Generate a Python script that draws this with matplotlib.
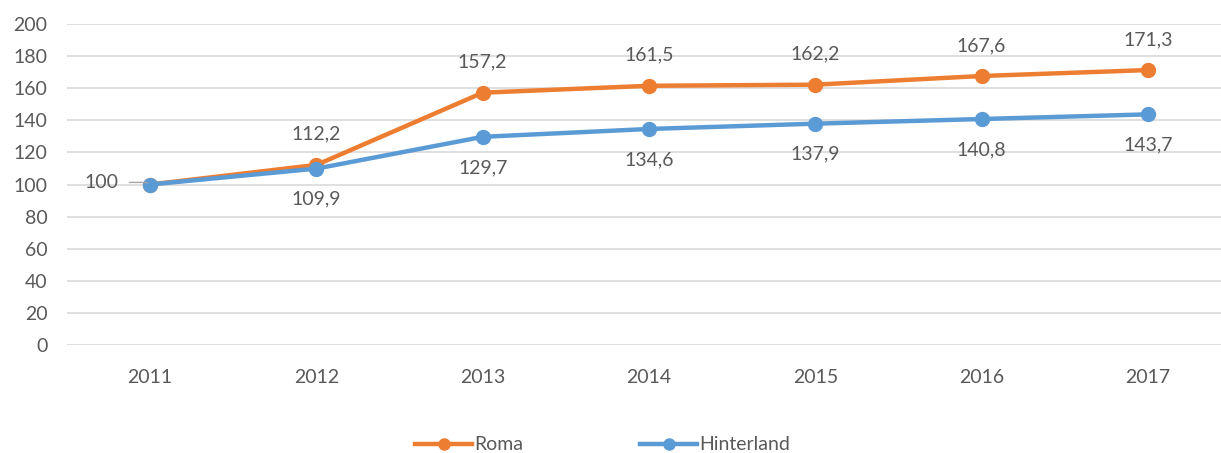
import matplotlib
matplotlib.use("Agg")
import matplotlib.pyplot as plt

years = ["2011", "2012", "2013", "2014", "2015", "2016", "2017"]
roma = [100, 112.2, 157.2, 161.5, 162.2, 167.6, 171.3]
hinterland = [100, 109.9, 129.7, 134.6, 137.9, 140.8, 143.7]
yticks = [0, 20, 40, 60, 80, 100, 120, 140, 160, 180, 200]

plt.rcParams['font.family'] = ['Lato', 'DejaVu Sans']
TXT = '#595959'
ORANGE = '#ED7D31'
BLUE = '#5B9BD5'
FS = 14

fig = plt.figure(figsize=(12.21, 4.53), dpi=100)
ax = fig.add_axes([67/1221, 108/453, (1221-67)/1221, 321/453])
x = list(range(len(years)))

ax.plot(x, roma, color=ORANGE, lw=3.2, marker='o', ms=10, label='Roma', zorder=3)
ax.plot(x, hinterland, color=BLUE, lw=3.2, marker='o', ms=10, label='Hinterland', zorder=4)

def fmt(v):
    s = f"{v:.1f}".replace('.', ',')
    if s.endswith(',0'):
        s = s[:-2]
    return s

for i, v in enumerate(roma):
    if i == 0:
        continue
    ax.annotate(fmt(v), (i, v), xytext=(0, 22), textcoords='offset points',
                ha='center', va='center', fontsize=FS, color=TXT)
for i, v in enumerate(hinterland):
    if i == 0:
        ax.annotate(fmt(v), (i, v), xytext=(-23, 1.5), textcoords='offset points',
                    ha='right', va='center', fontsize=FS, color=TXT, zorder=5,
                    arrowprops=dict(arrowstyle='-', color='#A6A6A6', lw=1,
                                    shrinkA=6, shrinkB=2,
                                    connectionstyle='angle,angleA=0,angleB=-30,rad=0'))
        continue
    ax.annotate(fmt(v), (i, v), xytext=(0, -22), textcoords='offset points',
                ha='center', va='center', fontsize=FS, color=TXT)

ax.set_xlim(-0.5, 6.44)
ax.set_ylim(0, 200)
ax.set_yticks(yticks)
ax.set_xticks(x)
ax.set_xticklabels(years)
ax.tick_params(axis='both', length=0, labelsize=FS, labelcolor=TXT)
ax.tick_params(axis='x', pad=17)
ax.tick_params(axis='y', pad=14)
ax.grid(axis='y', color='#D9D9D9', lw=1.2)
ax.set_axisbelow(True)
for s in ax.spines.values():
    s.set_visible(False)

leg = fig.legend(loc='center', bbox_to_anchor=(603/1221, 1 - 445/453), ncol=2,
                 frameon=False, fontsize=FS, labelcolor=TXT, handlelength=2.9,
                 columnspacing=6.0, handletextpad=0.15, markerscale=0.8)

fig.savefig('out.png', dpi=100)
